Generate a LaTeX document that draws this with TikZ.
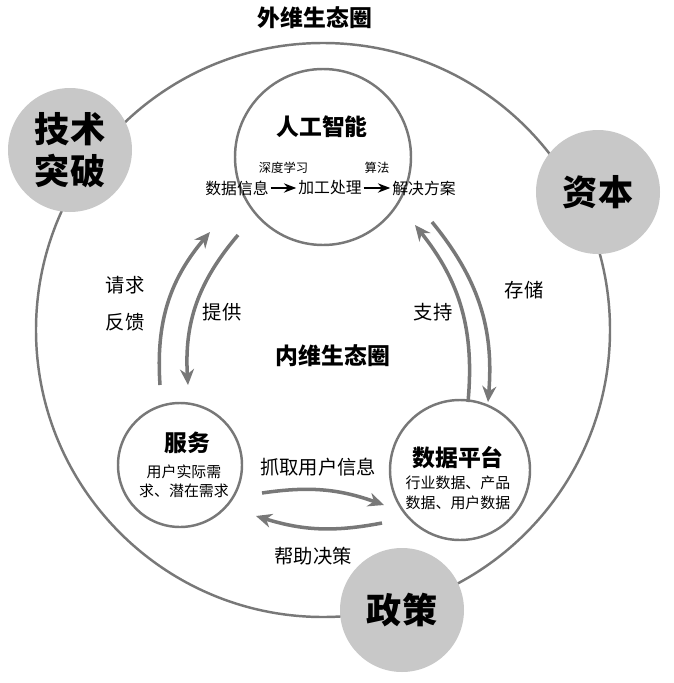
\documentclass[tikz,border=0pt]{standalone}
\usepackage{fontspec}
\setmainfont{Noto Sans CJK SC}
\usetikzlibrary{arrows.meta}
\definecolor{ringgray}{RGB}{120,120,120}
\definecolor{ballgray}{RGB}{200,200,200}
\newlength{\pxu}\setlength{\pxu}{0.02cm}
\tikzset{
  ring/.style={draw=ringgray, line width=1.4pt, circle},
  ball/.style={fill=ballgray, circle, minimum size=124\pxu},
  flow/.style={draw=ringgray, line width=2pt, -{Stealth[length=9pt,width=8pt]}},
  lbl/.style={font=\fontsize{11}{13}\selectfont},
  title/.style={font=\fontsize{13}{15}\selectfont\bfseries},
  small/.style={font=\fontsize{8.5}{11}\selectfont, align=center},
  chain/.style={font=\fontsize{9}{11}\selectfont, inner sep=1pt}
}
\begin{document}
\begin{tikzpicture}[x=0.02cm, y=-0.02cm]
    \useasboundingbox (0,0) rectangle (673,683);
                % Rings
                \node[ring, minimum size=574\pxu] (outer) at (323,330) {};
                \node[ring, minimum size=176\pxu] (ai) at (323,157) {};
                \node[ring, minimum size=124\pxu, fill=white] (svc) at (180,465) {};
                \node[ring, minimum size=140\pxu, fill=white] (plat) at (460,470) {};

                % Outer factors
                \node[ball, font=\fontsize{20}{24}\selectfont\bfseries, align=center] (tech) at (70,150) {技术\\突破};
                \node[ball, font=\fontsize{20}{24}\selectfont\bfseries] (cap) at (598,192) {资本};
                \node[ball, font=\fontsize{20}{24}\selectfont\bfseries] (pol) at (402,610) {政策};

                % Titles
                \node[title] (outt) at (315,18) {外维生态圈};
                \node[title] (innt) at (333,356) {内维生态圈};
                \node[title] (ait) at (322,127) {人工智能};
                \node[title] (svct) at (187,443) {服务};
                \node[title] (platt) at (458,458) {数据平台};

                % AI chain
                \node[chain] (d1) at (237,188) {数据信息};
                \node[chain] (d2) at (330,188) {加工处理};
                \node[chain] (d3) at (424,188) {解决方案};
                \draw[line width=1.3pt, -{Stealth[length=7pt]}] (d1) -- node[above=4pt, font=\fontsize{7}{8}\selectfont]{深度学习} (d2);
                \draw[line width=1.3pt, -{Stealth[length=7pt]}] (d2) -- node[above=4pt, font=\fontsize{7}{8}\selectfont]{算法} (d3);

                \node[small] (svcd) at (184,481) {用户实际需\\求、潜在需求};
                \node[small] (platd) at (458,493) {行业数据、产品\\数据、用户数据};

                % Flows
                \coordinate (l1) at (160,385); \coordinate (l2) at (210,232);
                \coordinate (l3) at (238,235); \coordinate (l4) at (188,385);
                \coordinate (r1) at (432,222); \coordinate (r2) at (488,402);
                \coordinate (r3) at (468,402); \coordinate (r4) at (415,225);
                \coordinate (b1) at (262,493); \coordinate (b2) at (384,505);
                \coordinate (b3) at (382,523); \coordinate (b4) at (256,516);
                \draw[flow] (l1) to[bend left=22] (l2);
                \draw[flow] (l3) to[bend right=22] (l4);
                \draw[flow] (r1) to[bend left=22] (r2);
                \draw[flow] (r3) to[bend right=22] (r4);
                \draw[flow] (b1) to[bend left=14] (b2);
                \draw[flow] (b3) to[bend left=14] (b4);

                % Flow labels
                \node[lbl] (req) at (125,285) {请求};
                \node[lbl] (fb) at (125,322) {反馈};
                \node[lbl] (give) at (222,312) {提供};
                \node[lbl] (sup) at (433,312) {支持};
                \node[lbl] (store) at (524,290) {存储};
                \node[lbl] (grab) at (318,467) {抓取用户信息};
                \node[lbl] (help) at (313,556) {帮助决策};
\end{tikzpicture}
\end{document}
